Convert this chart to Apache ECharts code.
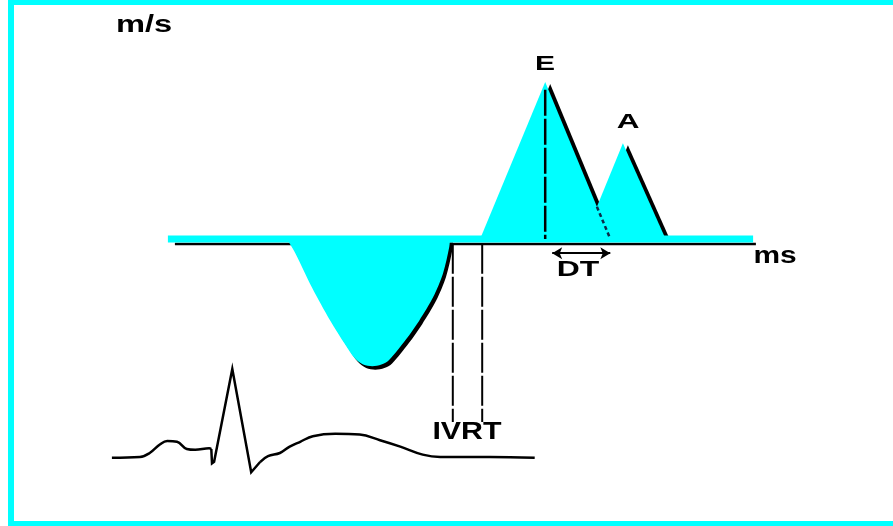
<!DOCTYPE html>
<html>
<head>
<meta charset="utf-8">
<script src="https://cdn.jsdelivr.net/npm/echarts@6/dist/echarts.min.js"></script>
<style>
  html, body { margin: 0; padding: 0; background: #fff; }
  #chart { width: 893px; height: 526px; }
</style>
</head>
<body>
<div id="chart"></div>
<script>
// Mitral inflow Doppler profile (m/s against ms) with the ECG below it.

// Baseline of the velocity trace (ms)
const baselineSpan = [97, 933];
const baselineRuleSpan = [107, 937];

// Systolic (negative) flow wave
const sWaveTime = [267, 279, 303, 329, 350, 364, 376, 389, 402, 413, 437, 456, 476, 490, 499, 500];
const sWaveVel  = [0, -0.09, -0.31, -0.52, -0.67, -0.76, -0.80, -0.81, -0.80, -0.77, -0.64, -0.52, -0.37, -0.22, -0.05, 0];

// Early (E) and atrial (A) filling waves
const eWaveTime = [543, 636, 729];
const eWaveVel  = [0, 1.0, 0];
const aWaveTime = [691, 747, 808];
const aWaveVel  = [0, 0.61, 0];

// Interval markers
const ivrtTimes = [504, 546];
const ivrtDepth = -1.166;
const dtSpan = [646, 729];
const dtLevel = -0.09;

// ECG trace (ms, mV)
const ecgTime = [17, 57, 71, 86, 96, 110, 124, 136, 156, 159, 160, 163, 189, 216, 229, 240, 257, 271, 286, 304, 336, 371, 400, 429, 461, 486, 557, 621];
const ecgMv   = [-0.01, 0, 0.05, 0.16, 0.2, 0.19, 0.1, 0.09, 0.11, 0.1, -0.08, -0.06, 1.1, -0.19, -0.06, 0.01, 0.05, 0.13, 0.19, 0.26, 0.29, 0.28, 0.21, 0.13, 0.03, 0, 0, -0.01];

const labelTexts = { vel: 'm/s', time: 'ms', e: 'E', a: 'A', dt: 'DT', ivrt: 'IVRT' };

const CYAN = '#00ffff';
const pairs = (xs, ys) => xs.map((x, i) => [x, ys[i]]);

// E edge segment hidden behind the A wave: from where the two edges cross down to the E base
function eaCrossing() {
  const [e0, ep, e1] = eWaveTime, eh = eWaveVel[1];
  const [a0, ap] = aWaveTime, ah = aWaveVel[1];
  const k1 = eh / (e1 - ep), k2 = ah / (ap - a0);
  const t = (k1 * e1 + k2 * a0) / (k1 + k2);
  return [t, k1 * (e1 - t)];
}

// cyan fills with a hard black drop shadow
const shadowFill = (dx, dy) => ({
  color: CYAN, opacity: 1,
  shadowColor: '#000', shadowBlur: 0, shadowOffsetX: dx, shadowOffsetY: dy
});
const hiddenLine = { width: 0, opacity: 0 };

const ecgSplit = [9, 14]; // P segment | QRS | ST-T
const ecgPts = pairs(ecgTime, ecgMv);

const base = { type: 'line', xAxisIndex: 0, yAxisIndex: 0, showSymbol: false, silent: true };

const series = [
  Object.assign({}, base, { // black rule under the baseline
    z: 1,
    data: [[baselineRuleSpan[0], -0.032], [baselineRuleSpan[1], -0.032]],
    lineStyle: { color: '#000', width: 2.5 }
  }),
  Object.assign({}, base, {
    z: 2, smooth: 0.3, data: pairs(sWaveTime, sWaveVel),
    lineStyle: hiddenLine, areaStyle: shadowFill(3, 3.5)
  }),
  Object.assign({}, base, {
    z: 3, data: pairs(eWaveTime, eWaveVel),
    lineStyle: hiddenLine, areaStyle: shadowFill(5, 2)
  }),
  Object.assign({}, base, {
    z: 4, data: pairs(aWaveTime, aWaveVel),
    lineStyle: hiddenLine, areaStyle: shadowFill(5, 2)
  }),
  Object.assign({}, base, { // cyan baseline band
    z: 5,
    data: [[baselineSpan[0], 0], [baselineSpan[1], 0]],
    lineStyle: { color: CYAN, width: 7, cap: 'butt' }
  }),
  Object.assign({}, base, { // hidden part of the E deceleration edge
    z: 6,
    data: [eaCrossing(), [eWaveTime[2], 0]],
    lineStyle: { color: '#0b2a48', width: 2.5, type: [4, 3] }
  }),
  Object.assign({}, base, { // E peak drop line and DT arrow
    z: 6,
    data: [[eWaveTime[1], eWaveVel[1] - 0.05], [eWaveTime[1], 0]],
    lineStyle: { color: '#000', width: 2.5, type: [26, 3] },
    markLine: {
      silent: true, symbol: ['arrow', 'arrow'], symbolSize: [9, 10],
      label: { show: false },
      lineStyle: { color: '#000', width: 2, type: 'solid' },
      data: [[{ coord: [dtSpan[0], dtLevel] }, { coord: [dtSpan[1], dtLevel] }]]
    }
  }),
  ...ivrtTimes.map(t => Object.assign({}, base, {
    z: 6,
    data: [[t, -0.03], [t, ivrtDepth]],
    lineStyle: { color: '#000', width: 2, type: [30, 3] }
  })),
  // ECG: smooth P and T waves, sharp QRS
  {
    type: 'line', xAxisIndex: 1, yAxisIndex: 1, showSymbol: false, silent: true,
    smooth: 0.4, data: ecgPts.slice(0, ecgSplit[0] + 1),
    lineStyle: { color: '#000', width: 2.5 }
  },
  {
    type: 'line', xAxisIndex: 1, yAxisIndex: 1, showSymbol: false, silent: true,
    data: ecgPts.slice(ecgSplit[0], ecgSplit[1] + 1),
    lineStyle: { color: '#000', width: 2.5, join: 'miter' }
  },
  {
    type: 'line', xAxisIndex: 1, yAxisIndex: 1, showSymbol: false, silent: true,
    smooth: 0.4, data: ecgPts.slice(ecgSplit[1]),
    lineStyle: { color: '#000', width: 2.5 }
  }
];

const font = 'Liberation Sans, Arial, sans-serif';
function label(text, x, y, size, sx) {
  return {
    type: 'text', x: x, y: y, scaleX: sx, z: 10,
    style: {
      text: text, x: 0, y: 0, fill: '#000',
      font: 'bold ' + size + 'px ' + font,
      textAlign: 'center', textVerticalAlign: 'middle'
    }
  };
}

const chart = echarts.init(document.getElementById('chart'), null, { renderer: 'canvas' });
chart.setOption({
  animation: false,
  backgroundColor: '#fff',
  grid: [
    { left: 100, width: 700, top: 3.5, height: 471, outerBoundsMode: 'none' },
    { left: 100, width: 700, top: 337, height: 184, outerBoundsMode: 'none' }
  ],
  xAxis: [
    { type: 'value', gridIndex: 0, min: 0, max: 1000, show: false },
    { type: 'value', gridIndex: 1, min: 0, max: 1000, show: false }
  ],
  yAxis: [
    { type: 'value', gridIndex: 0, min: -1.5, max: 1.5, show: false },
    { type: 'value', gridIndex: 1, min: -0.8, max: 1.5, show: false }
  ],
  series: series,
  graphic: [
    { type: 'rect', shape: { x: 8, y: 0, width: 885, height: 5 }, style: { fill: CYAN } },
    { type: 'rect', shape: { x: 8, y: 0, width: 6, height: 526 }, style: { fill: CYAN } },
    { type: 'rect', shape: { x: 8, y: 521, width: 885, height: 5 }, style: { fill: CYAN } },
    label(labelTexts.vel, 144, 25, 24, 1.36),
    label(labelTexts.time, 775, 257, 23, 1.3),
    label(labelTexts.e, 545, 64, 21, 1.43),
    label(labelTexts.a, 628, 122, 21, 1.5),
    label(labelTexts.dt, 578, 270, 22, 1.45),
    label(labelTexts.ivrt, 467, 433, 23, 1.32)
  ]
});
</script>
</body>
</html>
